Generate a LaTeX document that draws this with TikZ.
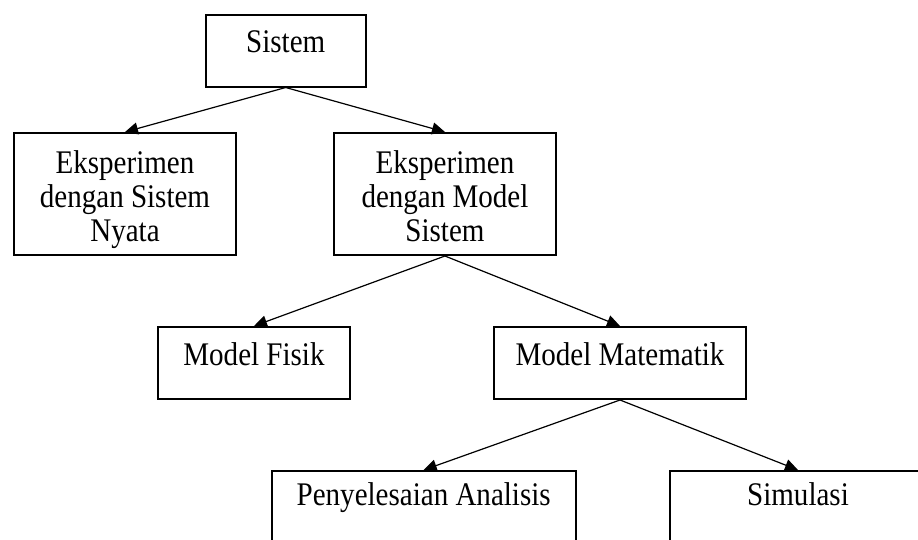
\documentclass[tikz,border=0pt]{standalone}
\usepackage{fontspec}
\setmainfont{Liberation Serif}[FakeStretch=0.88]
\usetikzlibrary{arrows.meta}
\newcommand{\toprl}{\rule{0pt}{36pt}}
\newcommand{\botrl}{\rule[-10pt]{0pt}{10pt}}
\begin{document}
\begin{tikzpicture}[x=1pt,y=-1pt,
  box/.style={draw, line width=2pt, rectangle, inner sep=0pt, align=center,
    font=\fontsize{33}{34}\selectfont},
  onebox/.style={box, minimum height=72pt, text height=22pt, text depth=18pt},
  threebox/.style={box, minimum width=222pt, minimum height=122pt},
  openbox/.style={box, minimum height=140pt, text height=22pt, text depth=94pt},
  conn/.style={line width=1.2pt, -{Triangle[length=13pt,width=12pt]}}]
\useasboundingbox (0,0) rectangle (918,539);
\clip (0,0) rectangle (918,539);
\node[onebox, minimum width=160pt] (sis) at (285.7,50.5) {Sistem};
\node[threebox] (nyata) at (125,194) {\toprl Eksperimen\\dengan Sistem\\Nyata\botrl};
\node[threebox] (model) at (445,194) {\toprl Eksperimen\\dengan Model\\Sistem\botrl};
\node[onebox, minimum width=192pt] (fisik) at (254,363) {Model Fisik};
\node[onebox, minimum width=252pt] (mate) at (620,363) {Model Matematik};
\node[openbox, minimum width=304pt] (anal) at (423.7,541) {Penyelesaian Analisis};
\node[openbox, minimum width=256pt] (simu) at (798,541) {Simulasi};
\draw[conn] (sis.south) -- (nyata.north);
\draw[conn] (sis.south) -- (model.north);
\draw[conn] (model.south) -- (fisik.north);
\draw[conn] (model.south) -- (mate.north);
\draw[conn] (mate.south) -- (anal.north);
\draw[conn] (mate.south) -- (simu.north);
\end{tikzpicture}
\end{document}
